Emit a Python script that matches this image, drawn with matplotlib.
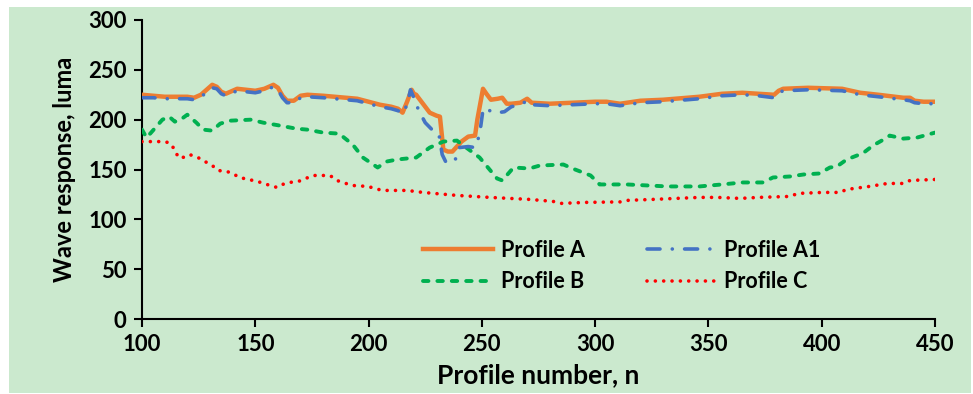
import matplotlib
matplotlib.use("Agg")
import matplotlib.pyplot as plt
from matplotlib.patches import Rectangle

# ---------------- data ----------------
a_x = [100, 105, 110, 115, 120, 123, 126, 129, 131, 133, 135, 137, 140, 142, 146, 150, 154, 158, 160, 162,
       164, 167, 170, 173, 180, 185, 190, 195, 200, 205, 210, 213, 215, 217, 219, 220, 221, 224, 227, 230,
       231.5, 233, 235, 237, 239, 241, 244, 247, 248, 250.5, 252, 254, 257, 259, 261, 263, 267, 270, 272,
       280, 290, 300, 305, 311, 320, 330, 346, 356, 365, 372, 379, 381, 383, 394, 409, 413, 417, 425, 436,
       439, 441, 445, 450]
a_y = [225, 224, 223, 223, 223, 222, 225, 231, 235, 233, 228, 226, 229, 231, 230, 229, 231, 235, 232, 224,
       219, 219, 224, 225, 224, 223, 222, 221, 218, 215, 213, 211, 207, 218, 230, 226, 225, 216, 207, 204,
       203, 170, 168, 168, 173, 178, 183, 184, 200, 231, 226, 220, 221, 222, 216, 216, 217, 221, 217,
       216, 217, 218, 218, 216, 219, 220, 223, 226, 227, 226, 225, 229, 231, 232, 231, 229, 227, 225, 222,
       222, 219, 218, 218]

a1_x = [100, 105, 110, 115, 120, 123, 126, 129, 131, 133, 135, 137, 140, 142, 146, 150, 154, 158, 160, 162,
        164, 167, 170, 173, 180, 185, 190, 195, 200, 205, 210, 213, 215, 217, 218.5, 220, 222, 225, 228, 231,
        232.5, 234, 236, 238, 240, 244, 247, 249, 250.5, 252, 254, 257, 260, 263, 267, 270, 272, 280, 290,
        300, 305, 311, 320, 330, 346, 356, 365, 372, 379, 381, 383, 394, 409, 413, 417, 425, 436, 439, 441,
        445, 450]
a1_y = [222, 222, 221, 221, 221, 220, 223, 228, 232, 231, 226, 224, 227, 229, 228, 227, 229, 233, 230, 222,
        217, 217, 222, 223, 222, 221, 220, 219, 216, 213, 211, 209, 206, 215, 230, 222, 210, 197, 190, 186,
        165, 158, 157, 158, 172, 173, 172, 185, 210, 212, 208, 207, 208, 213, 215, 219, 215, 214, 215,
        216, 216, 214, 217, 218, 221, 224, 225, 224, 222, 227, 229, 230, 229, 227, 225, 223, 220, 219, 217,
        216, 216]

b_x = [100, 102, 104, 109, 112, 114.5, 117, 120, 124, 127, 131, 134.5, 139, 148, 153.5, 161, 168, 173, 180,
       187, 193, 197.5, 204, 208, 212.5, 221, 227, 233, 239, 242.5, 249, 256.7, 259, 264, 271, 275.6, 286,
       290, 298, 302, 314, 332, 346, 356, 365, 374, 378.5, 386, 392, 399, 403.6, 406.7, 411, 415.5, 418,
       422.6, 428.8, 430, 436, 442, 450]
b_y = [190, 182, 187, 200, 203, 198, 200, 205, 197, 190, 189, 196, 199, 200, 197, 194, 191, 190, 187,
       186, 175, 162, 152, 158, 160, 162, 172, 178, 179, 173, 162, 141, 139, 152, 151, 154, 155,
       151, 144, 135, 135, 133, 133, 135, 137, 137, 142, 143, 145, 146, 152, 153, 160, 164, 166,
       174, 182, 184, 181, 182, 187]

c_x = [100, 109, 112, 114.5, 116, 118, 121, 124.7, 127.8, 131, 133.6, 137.5, 140, 143, 151, 156.5, 159.6,
       162, 165, 169, 175.5, 183, 186, 192.7, 199.7, 206, 217, 224, 239, 253.6, 271, 281.4, 285, 296, 311,
       314, 325.5, 346, 354, 364, 372, 386, 389.5, 400.5, 408, 411, 421, 429, 436, 439, 450]
c_y = [178, 178, 177, 170, 162, 162, 165, 162, 158, 154, 149, 148, 146, 142, 138, 134, 132,
       135, 137, 138, 144, 144, 139, 134, 133, 129, 129, 127, 124, 122, 120, 118, 116, 117, 117.5,
       119, 120, 122, 122, 121, 122, 123, 126, 127, 127, 130, 133, 136, 136, 139, 140]

x_ticks = [100, 150, 200, 250, 300, 350, 400, 450]
y_ticks = [0, 50, 100, 150, 200, 250, 300]

# ---------------- style ----------------
BG = "#CBE9CE"
FONT = "Lato"

fig = plt.figure(figsize=(9.73, 3.94), dpi=100, facecolor="white")
fig.patches.append(Rectangle((9 / 973, 1 - 393 / 394), (971 - 9) / 973, (393 - 7) / 394,
                             transform=fig.transFigure, facecolor=BG, edgecolor="none", zorder=-10))

ax = fig.add_axes([142 / 973, 1 - 319 / 394, (935 - 142) / 973, (319 - 20) / 394])
ax.set_facecolor(BG)

la, = ax.plot(a_x, a_y, color="#ED7D31", lw=3.2, solid_joinstyle="round", label="Profile A", zorder=3)
la1, = ax.plot(a1_x, a1_y, color="#4472C4", lw=2.6, linestyle=(0, (3.6, 3.4, 0.01, 3.4)),
               dash_capstyle="round", label="Profile A1", zorder=4)
lb, = ax.plot(b_x, b_y, color="#00B050", lw=2.8, linestyle=(0, (1.4, 2.3)), dash_capstyle="round",
              label="Profile B", zorder=3)
lc, = ax.plot(c_x, c_y, color="#FF0000", lw=2.6, linestyle=(0, (0.01, 2.3)), dash_capstyle="round",
              label="Profile C", zorder=3)

ax.set_xlim(100, 450)
ax.set_ylim(0, 300)
ax.set_xticks(x_ticks)
ax.set_yticks(y_ticks)
for s in ["top", "right"]:
    ax.spines[s].set_visible(False)
for s in ["left", "bottom"]:
    ax.spines[s].set_linewidth(1.5)
    ax.spines[s].set_color("black")
ax.tick_params(axis="both", direction="out", length=6, width=1.5, colors="black", pad=5)
for lab in ax.get_xticklabels() + ax.get_yticklabels():
    lab.set_fontfamily(FONT)
    lab.set_fontweight("bold")
    lab.set_fontsize(16)

ax.set_xlabel("Profile number, n", fontfamily=FONT, fontweight="bold", fontsize=19, labelpad=6)
ax.set_ylabel("Wave response, luma", fontfamily=FONT, fontweight="bold", fontsize=17, labelpad=9)

leg = ax.legend([la, lb, la1, lc], ["Profile A", "Profile B", "Profile A1", "Profile C"],
                ncol=2, loc="upper left", bbox_to_anchor=(0.33, 0.33), frameon=False,
                prop={"family": FONT, "weight": "bold", "size": 15.5},
                handlelength=3.25, handletextpad=0.35, columnspacing=2.9, labelspacing=0.5)

fig.savefig("out.png", dpi=100, facecolor=fig.get_facecolor())
